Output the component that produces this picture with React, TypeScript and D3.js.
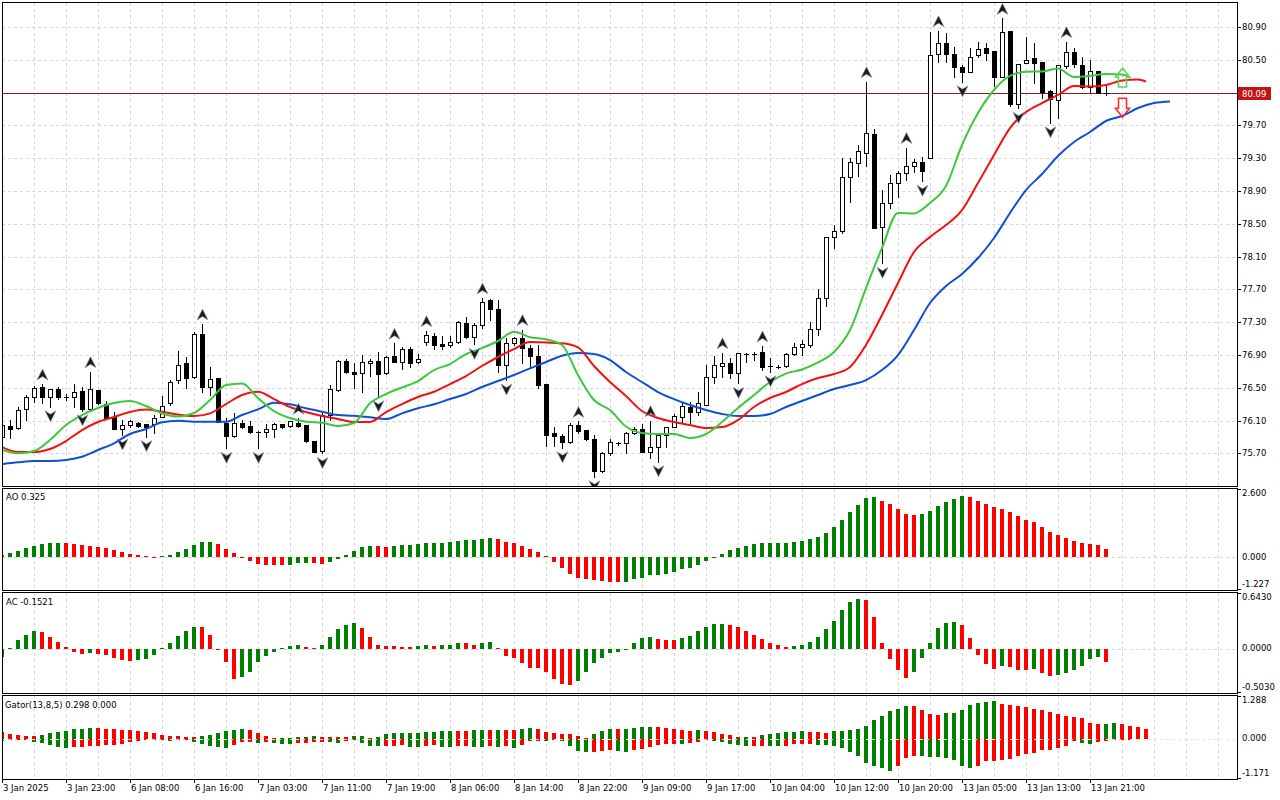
import React from "react";
import * as d3 from "d3";

// ---------------- DATA ----------------
const timeLabels = [
  "3 Jan 2025", "3 Jan 23:00", "6 Jan 08:00", "6 Jan 16:00", "7 Jan 03:00", "7 Jan 11:00",
  "7 Jan 19:00", "8 Jan 06:00", "8 Jan 14:00", "8 Jan 22:00", "9 Jan 09:00", "9 Jan 17:00",
  "10 Jan 04:00", "10 Jan 12:00", "10 Jan 20:00", "13 Jan 05:00", "13 Jan 13:00", "13 Jan 21:00",
];
const labelEvery = 8;

const priceTicks = [75.7, 76.1, 76.5, 76.9, 77.3, 77.7, 78.1, 78.5, 78.9, 79.3, 79.7, 80.1, 80.5, 80.9];
const bid = 80.09;

const openP = [
  75.90, 76.039, 76.006, 76.238, 76.384, 76.506, 76.384, 76.49, 76.384, 76.384,
  76.457, 76.24, 76.474, 76.303, 76.148, 75.994, 76.043, 76.075, 76.059, 76.059,
  76.14, 76.31, 76.595, 76.798, 76.628, 77.156, 76.514, 76.616, 76.075, 75.912,
  76.067, 76.035, 75.965, 75.965, 75.994, 76.059, 76.035, 76.075, 76.051, 75.855,
  75.734, 76.169, 76.473, 76.827, 76.689, 76.677, 76.799, 76.827, 76.677, 76.888,
  76.819, 76.969, 76.811, 77.063, 77.132, 77.038, 77.018, 77.055, 77.295, 77.116,
  77.266, 77.571, 77.457, 76.778, 77.043, 77.104, 76.982, 76.888, 76.547, 75.945,
  75.913, 75.843, 76.047, 75.986, 75.872, 75.49, 75.709, 75.823, 75.823, 75.945,
  75.994, 75.722, 75.783, 75.925, 76.026, 76.15, 76.27, 76.209, 76.29, 76.636,
  76.766, 76.798, 76.684, 76.912, 76.908, 76.932, 76.766, 76.758, 76.766, 76.912,
  76.993, 77.022, 77.213, 77.591, 78.335, 78.416, 79.075, 79.245, 79.367, 79.595,
  78.465, 78.749, 78.993, 79.124, 79.209, 79.249, 79.298, 80.571, 80.709, 80.571,
  80.408, 80.355, 80.558, 80.639, 80.607, 80.294, 80.851, 79.961, 80.457, 80.518,
  80.477, 80.123, 80.01, 80.424, 80.599, 80.436, 80.164, 80.367, 80.09,
];
const highP = [
  76.06, 76.108, 76.27, 76.41, 76.52, 76.546, 76.48, 76.515, 76.425, 76.546,
  76.515, 76.697, 76.474, 76.343, 76.2, 76.108, 76.108, 76.087, 76.059, 76.168,
  76.4, 76.595, 76.953, 76.88, 77.185, 77.278, 76.758, 76.616, 76.128, 76.19,
  76.108, 76.1, 75.97, 76.059, 76.067, 76.059, 76.092, 76.128, 76.051, 75.855,
  76.189, 76.534, 76.839, 76.847, 76.799, 76.9, 76.847, 76.933, 76.888, 77.043,
  77.002, 77.002, 76.908, 77.197, 77.164, 77.132, 77.132, 77.319, 77.36, 77.286,
  77.595, 77.579, 77.571, 77.104, 77.12, 77.21, 77.022, 77.022, 76.547, 76.026,
  75.937, 76.067, 76.09, 75.986, 75.925, 75.722, 75.872, 75.835, 75.965, 76.026,
  76.06, 76.10, 75.925, 76.026, 76.181, 76.311, 76.331, 76.453, 76.778, 76.888,
  76.928, 76.859, 76.92, 76.92, 76.94, 77.01, 76.868, 76.778, 76.928, 77.05,
  77.083, 77.306, 77.701, 78.335, 78.485, 79.298, 79.298, 79.461, 80.233, 79.652,
  78.912, 79.095, 79.148, 79.43, 79.294, 79.318, 80.843, 80.855, 80.823, 80.66,
  80.436, 80.639, 80.721, 80.701, 80.607, 81.005, 80.851, 80.445, 80.782, 80.701,
  80.477, 80.131, 80.436, 80.721, 80.64, 80.538, 80.497, 80.367, 80.192,
];
const lowP = [
  75.89, 75.884, 76.0, 76.108, 76.33, 76.31, 76.27, 76.36, 76.35, 76.27,
  76.22, 76.235, 76.303, 76.128, 75.994, 75.925, 76.026, 76.026, 75.905, 75.953,
  76.14, 76.29, 76.555, 76.494, 76.615, 76.453, 76.413, 76.087, 75.762, 75.9,
  76.006, 75.945, 75.762, 75.905, 75.905, 76.006, 76.026, 76.026, 75.835, 75.715,
  75.70, 76.108, 76.465, 76.685, 76.494, 76.453, 76.644, 76.392, 76.669, 76.819,
  76.726, 76.758, 76.799, 77.022, 76.969, 76.969, 77.002, 77.05, 77.104, 77.03,
  77.226, 77.327, 76.697, 76.595, 77.022, 76.799, 76.758, 76.494, 75.79, 75.79,
  75.77, 75.823, 75.945, 75.864, 75.417, 75.478, 75.681, 75.803, 75.709, 75.937,
  75.722, 75.64, 75.60, 75.783, 76.018, 76.087, 76.046, 76.168, 76.29, 76.555,
  76.636, 76.616, 76.555, 76.818, 76.839, 76.717, 76.697, 76.738, 76.758, 76.9,
  76.9, 77.002, 77.144, 77.498, 78.201, 78.384, 78.77, 79.083, 79.205, 78.453,
  78.018, 78.689, 78.823, 79.04, 79.136, 79.02, 79.298, 80.477, 80.477, 80.294,
  80.233, 80.355, 80.538, 80.497, 80.18, 80.294, 79.936, 79.908, 80.457, 80.221,
  80.03, 79.733, 79.786, 80.396, 80.416, 80.152, 80.111, 80.091, 80.07,
];
const closeP = [
  76.05, 75.998, 76.23, 76.384, 76.494, 76.384, 76.48, 76.39, 76.384, 76.453,
  76.238, 76.48, 76.31, 76.128, 75.994, 76.043, 76.092, 76.035, 76.026, 76.128,
  76.278, 76.575, 76.778, 76.624, 77.156, 76.514, 76.612, 76.087, 75.912, 76.067,
  76.026, 75.965, 75.965, 75.994, 76.055, 76.026, 76.092, 76.039, 75.847, 75.721,
  76.169, 76.482, 76.827, 76.697, 76.673, 76.811, 76.827, 76.669, 76.88, 76.819,
  76.969, 76.807, 76.856, 77.14, 77.026, 77.01, 77.059, 77.303, 77.116, 77.262,
  77.551, 77.457, 76.778, 77.043, 77.104, 76.982, 76.888, 76.535, 75.925, 75.917,
  75.843, 76.047, 75.978, 75.872, 75.49, 75.709, 75.835, 75.823, 75.945, 75.994,
  75.722, 75.783, 75.925, 76.026, 76.156, 76.275, 76.209, 76.311, 76.636, 76.778,
  76.798, 76.676, 76.92, 76.912, 76.908, 76.758, 76.766, 76.758, 76.912, 76.993,
  77.034, 77.213, 77.591, 78.335, 78.416, 79.075, 79.258, 79.388, 79.603, 78.453,
  78.749, 78.993, 79.124, 79.204, 79.249, 79.148, 80.558, 80.709, 80.571, 80.408,
  80.355, 80.538, 80.627, 80.579, 80.294, 80.835, 79.961, 80.445, 80.497, 80.457,
  80.111, 80.018, 80.436, 80.599, 80.448, 80.164, 80.367, 80.091, 80.09,
];

// Alligator lines, one value every 2 bars (last value at lastBar + shift)
const jawShift = 8, teethShift = 5, lipsShift = 3;
const jawLine = [
  75.571, 75.592, 75.607, 75.607, 75.620, 75.660, 75.742, 75.823, 75.937, 75.998,
  76.079, 76.099, 76.087, 76.087, 76.087, 76.168, 76.238, 76.318, 76.299, 76.250,
  76.209, 76.168, 76.160, 76.140, 76.120, 76.189, 76.250, 76.299, 76.363, 76.424,
  76.510, 76.583, 76.656, 76.738, 76.815, 76.892, 76.924, 76.912, 76.839, 76.693,
  76.571, 76.449, 76.363, 76.290, 76.229, 76.181, 76.156, 76.156, 76.181, 76.266,
  76.339, 76.412, 76.485, 76.534, 76.595, 76.717, 76.900, 77.205, 77.534, 77.742,
  77.888, 78.083, 78.327, 78.632, 78.912, 79.107, 79.327, 79.498, 79.620, 79.754,
  79.815, 79.912, 79.973, 79.992,
];
const teethLine = [
  75.778, 75.717, 75.717, 75.754, 75.851, 75.985, 76.083, 76.144, 76.205, 76.235,
  76.209, 76.174, 76.156, 76.189, 76.302, 76.412, 76.452, 76.363, 76.266, 76.205,
  76.156, 76.120, 76.083, 76.083, 76.205, 76.302, 76.388, 76.452, 76.546, 76.644,
  76.766, 76.876, 76.973, 77.059, 77.052, 77.043, 76.992, 76.766, 76.571, 76.400,
  76.217, 76.132, 76.083, 76.046, 76.010, 76.022, 76.107, 76.266, 76.376, 76.449,
  76.546, 76.620, 76.668, 76.754, 77.022, 77.388, 77.778, 78.156, 78.339, 78.485,
  78.668, 78.998, 79.339, 79.668, 79.863, 79.973, 80.071, 80.181, 80.174, 80.193,
  80.248, 80.260, 80.235,
];
const lipsLine = [
  75.742, 75.701, 75.729, 75.863, 76.046, 76.168, 76.254, 76.315, 76.339, 76.278,
  76.187, 76.150, 76.193, 76.351, 76.534, 76.553, 76.376, 76.217, 76.132, 76.087,
  76.074, 76.034, 76.071, 76.311, 76.424, 76.504, 76.583, 76.717, 76.790, 76.912,
  76.985, 77.071, 77.184, 77.116, 77.092, 77.022, 76.656, 76.351, 76.229, 76.028,
  75.949, 75.937, 75.937, 75.888, 75.937, 76.083, 76.254, 76.412, 76.571, 76.674,
  76.723, 76.809, 76.937, 77.205, 77.717, 78.205, 78.632, 78.626, 78.754, 78.961,
  79.461, 79.851, 80.132, 80.303, 80.355, 80.357, 80.394, 80.290, 80.303, 80.327,
  80.321, 80.287,
];

const fractalUp = [5, 11, 25, 37, 49, 53, 60, 65, 72, 81, 90, 95, 108, 113, 117, 125, 133];
const fractalDown = [6, 10, 15, 18, 28, 32, 40, 47, 59, 63, 70, 74, 82, 92, 96, 110, 115, 120, 127, 131];

const signalBar = 140;
const signalBuyTip = 80.40;
const signalSellTip = 79.80;

const aoValues = [
  0.076, 0.15, 0.23, 0.34, 0.42, 0.49, 0.53, 0.54, 0.53, 0.49,
  0.45, 0.43, 0.38, 0.34, 0.27, 0.19, 0.11, 0.08, 0.03, 0.01,
  0.04, 0.08, 0.19, 0.30, 0.45, 0.57, 0.58, 0.49, 0.30, 0.15,
  -0.01, -0.15, -0.27, -0.275, -0.30, -0.305, -0.29, -0.23, -0.22, -0.23,
  -0.26, -0.19, -0.08, 0.08, 0.23, 0.38, 0.42, 0.41, 0.405, 0.44,
  0.445, 0.45, 0.49, 0.53, 0.535, 0.54, 0.57, 0.61, 0.64, 0.645,
  0.68, 0.72, 0.68, 0.57, 0.53, 0.42, 0.30, 0.19, 0.04, -0.19,
  -0.42, -0.61, -0.76, -0.80, -0.87, -0.875, -0.91, -0.915, -0.91, -0.83,
  -0.76, -0.68, -0.675, -0.61, -0.57, -0.45, -0.42, -0.30, -0.15, -0.04,
  0.11, 0.27, 0.34, 0.42, 0.49, 0.53, 0.535, 0.54, 0.545, 0.57,
  0.62, 0.68, 0.76, 0.91, 1.14, 1.40, 1.70, 1.97, 2.23, 2.27,
  2.12, 2.01, 1.82, 1.63, 1.59, 1.63, 1.74, 1.93, 2.08, 2.20,
  2.31, 2.27, 2.12, 2.01, 1.89, 1.82, 1.70, 1.55, 1.40, 1.33,
  1.14, 0.95, 0.83, 0.72, 0.61, 0.53, 0.49, 0.45, 0.325,
];
const acValues = [
  -0.10, 0.005, 0.094, 0.16, 0.20, 0.19, 0.13, 0.08, 0.02, -0.035,
  -0.06, -0.047, -0.06, -0.07, -0.105, -0.13, -0.14, -0.13, -0.12, -0.07,
  0.005, 0.06, 0.14, 0.20, 0.245, 0.244, 0.15, -0.01, -0.15, -0.34,
  -0.32, -0.27, -0.15, -0.08, -0.035, 0.003, 0.035, 0.047, 0.023, 0.012,
  0.047, 0.13, 0.22, 0.27, 0.29, 0.234, 0.13, 0.047, 0.035, 0.03,
  0.022, 0.02, 0.025, 0.047, 0.035, 0.036, 0.047, 0.07, 0.06, 0.047,
  0.07, 0.08, 0.01, -0.08, -0.105, -0.16, -0.22, -0.225, -0.26, -0.34,
  -0.40, -0.41, -0.37, -0.26, -0.16, -0.105, -0.047, -0.035, -0.01, 0.06,
  0.12, 0.13, 0.105, 0.094, 0.093, 0.12, 0.14, 0.20, 0.245, 0.28,
  0.281, 0.27, 0.245, 0.20, 0.15, 0.105, 0.07, 0.047, 0.023, 0.035,
  0.047, 0.08, 0.13, 0.22, 0.315, 0.44, 0.53, 0.56, 0.55, 0.36,
  0.06, -0.12, -0.245, -0.33, -0.26, -0.105, 0.06, 0.23, 0.29, 0.30,
  0.27, 0.12, -0.07, -0.175, -0.235, -0.20, -0.21, -0.245, -0.246, -0.235,
  -0.28, -0.315, -0.30, -0.28, -0.245, -0.20, -0.12, -0.094, -0.1521,
];
const gatorUpper = [
  0.215, 0.146, 0.127, 0.078, 0.074, 0.107, 0.166, 0.195, 0.224, 0.283,
  0.295, 0.315, 0.312, 0.283, 0.28, 0.254, 0.25, 0.244, 0.215, 0.166,
  0.107, 0.078, 0.075, 0.049, 0.045, 0.078, 0.107, 0.166, 0.224, 0.254,
  0.283, 0.254, 0.166, 0.078, 0.015, 0.02, 0.025, 0.05, 0.052, 0.078,
  0.05, 0.049, 0.048, 0.047, 0.078, 0.079, 0.02, 0.049, 0.137, 0.166,
  0.167, 0.168, 0.17, 0.195, 0.197, 0.224, 0.226, 0.225, 0.224, 0.254,
  0.255, 0.254, 0.256, 0.255, 0.254, 0.283, 0.312, 0.283, 0.195, 0.166,
  0.137, 0.136, 0.078, 0.02, 0.137, 0.224, 0.29, 0.283, 0.302, 0.322,
  0.351, 0.361, 0.351, 0.322, 0.293, 0.263, 0.234, 0.263, 0.234, 0.195,
  0.137, 0.107, 0.059, 0.068, 0.049, 0.117, 0.156, 0.166, 0.195, 0.215,
  0.224, 0.205, 0.195, 0.19, 0.224, 0.234, 0.254, 0.293, 0.39, 0.546,
  0.683, 0.81, 0.888, 0.976, 0.97, 0.839, 0.741, 0.712, 0.761, 0.77,
  0.839, 0.985, 1.054, 1.093, 1.112, 1.034, 0.985, 0.976, 0.946, 0.878,
  0.839, 0.79, 0.741, 0.683, 0.644, 0.605, 0.468, 0.439, 0.449, 0.458,
  0.44, 0.39, 0.351, 0.298,
];
const gatorLower = [
  0.06, 0.04, 0.02, 0.015, 0.078, 0.117, 0.176, 0.234, 0.263, 0.234,
  0.233, 0.215, 0.214, 0.185, 0.184, 0.156, 0.098, 0.07, 0.04, 0.02,
  0.01, 0.06, 0.03, 0.02, 0.078, 0.156, 0.205, 0.234, 0.263, 0.176,
  0.098, 0.097, 0.127, 0.098, 0.127, 0.156, 0.157, 0.127, 0.126, 0.098,
  0.097, 0.098, 0.127, 0.06, 0.03, 0.12, 0.205, 0.207, 0.205, 0.2,
  0.176, 0.234, 0.236, 0.2, 0.19, 0.234, 0.236, 0.205, 0.2, 0.234,
  0.236, 0.205, 0.234, 0.205, 0.263, 0.176, 0.06, 0.059, 0.06, 0.03,
  0.06, 0.205, 0.35, 0.38, 0.37, 0.35, 0.33, 0.35, 0.39, 0.332,
  0.283, 0.244, 0.176, 0.156, 0.146, 0.156, 0.117, 0.088, 0.04, 0.049,
  0.088, 0.137, 0.176, 0.215, 0.205, 0.195, 0.2, 0.215, 0.205, 0.156,
  0.146, 0.137, 0.176, 0.185, 0.215, 0.273, 0.39, 0.507, 0.702, 0.8,
  0.859, 0.946, 0.8, 0.566, 0.488, 0.49, 0.517, 0.537, 0.546, 0.605,
  0.8, 0.859, 0.79, 0.654, 0.634, 0.624, 0.585, 0.507, 0.449, 0.4,
  0.322, 0.312, 0.273, 0.215, 0.068, 0.117, 0.146, 0.088, 0.068, 0.039,
  0.03, 0.02,
];
const gatorLabelValues = [0.298, 0.0];

const aoRange = [-1.227, 2.6];
const acRange = [-0.503, 0.643];
const gatorRange = [-1.171, 1.288];
const priceRange = [75.315, 81.205];

// ---------------- LAYOUT ----------------
const W = 1280;
const H = 800;
const L = 2;
const R = 1237;
const MAIN = { top: 2, bottom: 486 };
const AOP = { top: 488, bottom: 590 };
const ACP = { top: 592, bottom: 693 };
const GTP = { top: 695, bottom: 779 };

const FONT = "'DejaVu Sans', Verdana, sans-serif";
const FS = 8.5;
const GREEN = "#008000";
const RED = "#ff0000";
const GRID = "#d6d6d6";
const JAW = "#0d4fd6";
const TEETH = "#f41010";
const LIPS = "#3cc83c";

const nBars = closeP.length;
const lastBar = nBars - 1;

function histColors(vals: number[], first: string, abs = false) {
  return vals.map((v, i) => {
    if (i === 0) return first;
    const a = abs ? Math.abs(v) : v;
    const b = abs ? Math.abs(vals[i - 1]) : vals[i - 1];
    return a > b ? GREEN : RED;
  });
}

export default function App() {
  const x = d3.scaleLinear().domain([0, 1]).range([2, 10]);
  const yMain = d3.scaleLinear().domain(priceRange).range([485, 2]);
  const yAO = d3.scaleLinear().domain(aoRange).range([AOP.bottom, AOP.top]);
  const yAC = d3.scaleLinear().domain(acRange).range([ACP.bottom, ACP.top]);
  const yGT = d3.scaleLinear().domain(gatorRange).range([GTP.bottom, GTP.top]);

  const px = (i: number) => Math.round(x(i));

  const gridBars: number[] = [];
  for (let i = 4; x(i) < R - 2; i += 4) gridBars.push(i);

  const lineIdx = (n: number, end: number) => (k: number) => (k === n - 1 ? end : k * 2);
  const mkLine = (vals: number[], end: number) => {
    const idx = lineIdx(vals.length, end);
    return d3
      .line<number>()
      .x((_, k) => x(idx(k)))
      .y((d) => yMain(d))
      .curve(d3.curveMonotoneX)(vals) as string;
  };

  const panelFrame = (p: { top: number; bottom: number }, key: string) => (
    <rect key={key} x={L + 0.5} y={p.top + 0.5} width={R - L} height={p.bottom - p.top}
      fill="none" stroke="#000" shapeRendering="crispEdges" />
  );

  const vGrid = (p: { top: number; bottom: number }, key: string) => (
    <g key={key}>
      {gridBars.map((i) => (
        <line key={i} x1={px(i) + 0.5} x2={px(i) + 0.5} y1={p.top + 1} y2={p.bottom}
          stroke={GRID} strokeDasharray="3,3" shapeRendering="crispEdges" />
      ))}
    </g>
  );

  const histogram = (vals: number[], colors: string[], y: d3.ScaleLinear<number, number>, sign = 1) =>
    vals.map((v, i) => {
      const y0 = Math.round(y(0));
      const y1 = Math.round(y(sign * v));
      const top = Math.min(y0, y1);
      const h = Math.max(1, Math.abs(y1 - y0));
      return <rect key={i} x={px(i) - 2} y={top} width={4} height={h} fill={colors[i]} shapeRendering="crispEdges" />;
    });

  const aoColors = histColors(aoValues, RED);
  const acColors = histColors(acValues, GREEN);
  const guColors = histColors(gatorUpper, RED, true);
  const glColors = histColors(gatorLower, GREEN, true);

  const subAxis = (p: { top: number; bottom: number }, range: number[], y: d3.ScaleLinear<number, number>, dec: number, key: string) => {
    const items = [
      { v: range[1], ty: p.top + 5.5, tick: p.top + 1 },
      { v: 0, ty: y(0), tick: null as number | null },
      { v: range[0], ty: p.bottom - 5.5, tick: p.bottom - 1 },
    ];
    return (
      <g key={key}>
        {items.map((it, k) => (
          <g key={k}>
            {it.tick !== null && (
              <line x1={R} x2={R + 4} y1={it.tick + 0.5} y2={it.tick + 0.5} stroke="#000" shapeRendering="crispEdges" />
            )}
            <text x={R + 5} y={it.ty} dominantBaseline="middle" fontSize={FS} fontFamily={FONT} fill="#000">
              {it.v.toFixed(dec)}
            </text>
          </g>
        ))}
      </g>
    );
  };

  const upArrow = (cx: number, cy: number) =>
    `M${cx},${cy - 6} L${cx + 5.5},${cy + 5} L${cx},${cy + 1.5} L${cx - 5.5},${cy + 5} Z`;
  const downArrow = (cx: number, cy: number) =>
    `M${cx},${cy + 6} L${cx + 5.5},${cy - 5} L${cx},${cy - 1.5} L${cx - 5.5},${cy - 5} Z`;

  const sx = x(signalBar) + 0.5;
  const bTip = yMain(signalBuyTip);
  const sTip = yMain(signalSellTip);
  const buyPath = `M${sx},${bTip} L${sx + 7},${bTip + 9} L${sx + 4},${bTip + 9} L${sx + 4},${bTip + 19} L${sx - 4},${bTip + 19} L${sx - 4},${bTip + 9} L${sx - 7},${bTip + 9} Z`;
  const sellPath = `M${sx},${sTip} L${sx + 7},${sTip - 9} L${sx + 4},${sTip - 9} L${sx + 4},${sTip - 19} L${sx - 4},${sTip - 19} L${sx - 4},${sTip - 9} L${sx - 7},${sTip - 9} Z`;

  const bidY = Math.round(yMain(bid));

  return (
    <div style={{ position: "absolute", left: 0, top: 0, width: W, height: H, background: "#fff" }}>
      <svg width={W} height={H} style={{ display: "block" }}>
        <defs>
          <clipPath id="cMain"><rect x={L + 1} y={MAIN.top + 1} width={R - L - 1} height={MAIN.bottom - MAIN.top - 1} /></clipPath>
          <clipPath id="cAO"><rect x={L + 1} y={AOP.top + 1} width={R - L - 1} height={AOP.bottom - AOP.top - 1} /></clipPath>
          <clipPath id="cAC"><rect x={L + 1} y={ACP.top + 1} width={R - L - 1} height={ACP.bottom - ACP.top - 1} /></clipPath>
          <clipPath id="cGT"><rect x={L + 1} y={GTP.top + 1} width={R - L - 1} height={GTP.bottom - GTP.top - 1} /></clipPath>
        </defs>
        <rect x={0} y={0} width={W} height={H} fill="#fff" />

        {/* ---------- MAIN PANEL ---------- */}
        <g clipPath="url(#cMain)">
          {vGrid(MAIN, "gm")}
          {priceTicks.map((p) => (
            <line key={p} x1={L} x2={R} y1={Math.round(yMain(p)) + 0.5} y2={Math.round(yMain(p)) + 0.5}
              stroke={GRID} strokeDasharray="3,3" shapeRendering="crispEdges" />
          ))}
          <line x1={L} x2={R} y1={bidY + 0.5} y2={bidY + 0.5} stroke="#8a1c1c" shapeRendering="crispEdges" />
          {closeP.map((c, i) => {
            const o = openP[i];
            const cx = px(i);
            const yO = Math.round(yMain(o));
            const yC = Math.round(yMain(c));
            const yH = Math.round(yMain(highP[i]));
            const yL = Math.round(yMain(lowP[i]));
            const top = Math.min(yO, yC);
            const bot = Math.max(yO, yC);
            const bull = c >= o;
            return (
              <g key={i} shapeRendering="crispEdges">
                <line x1={cx + 0.5} x2={cx + 0.5} y1={yH} y2={yL + 1} stroke="#000" />
                {bot - top < 1 ? (
                  <line x1={cx - 2} x2={cx + 3} y1={top + 0.5} y2={top + 0.5} stroke="#000" />
                ) : bull ? (
                  <rect x={cx - 1.5} y={top + 0.5} width={4} height={bot - top} fill="#fff" stroke="#000" />
                ) : (
                  <rect x={cx - 2} y={top} width={5} height={bot - top + 1} fill="#000" />
                )}
              </g>
            );
          })}
          <path d={mkLine(jawLine, lastBar + jawShift)} fill="none" stroke={JAW} strokeWidth={2} />
          <path d={mkLine(teethLine, lastBar + teethShift)} fill="none" stroke={TEETH} strokeWidth={2} />
          <path d={mkLine(lipsLine, lastBar + lipsShift)} fill="none" stroke={LIPS} strokeWidth={2} />
          {fractalUp.map((i) => (
            <path key={"u" + i} d={upArrow(x(i) + 0.5, yMain(highP[i]) - 9)} fill="#1b1b1b" stroke="#8797b0" strokeWidth={0.6} />
          ))}
          {fractalDown.map((i) => (
            <path key={"d" + i} d={downArrow(x(i) + 0.5, yMain(lowP[i]) + 9)} fill="#1b1b1b" stroke="#8797b0" strokeWidth={0.6} />
          ))}
          <path d={buyPath} fill="none" stroke="#5fd35f" strokeWidth={1.6} />
          <path d={sellPath} fill="none" stroke="#ff2a2a" strokeWidth={1.6} />
        </g>
        {panelFrame(MAIN, "fm")}
        {priceTicks.map((p) => {
          const yy = Math.round(yMain(p));
          return (
            <g key={"pl" + p}>
              <line x1={R} x2={R + 4} y1={yy + 0.5} y2={yy + 0.5} stroke="#000" shapeRendering="crispEdges" />
              <text x={R + 5} y={yy + 0.5} dominantBaseline="middle" fontSize={FS} fontFamily={FONT} fill="#000">
                {p.toFixed(2)}
              </text>
            </g>
          );
        })}
        <rect x={R + 1} y={bidY - 6} width={33} height={13} fill="#c41414" shapeRendering="crispEdges" />
        <text x={R + 5} y={bidY + 1} dominantBaseline="middle" fontSize={FS} fontFamily={FONT} fill="#fff">
          {bid.toFixed(2)}
        </text>

        {/* ---------- AO ---------- */}
        <g clipPath="url(#cAO)">
          {vGrid(AOP, "ga")}
          <line x1={L} x2={R} y1={Math.round(yAO(0)) + 0.5} y2={Math.round(yAO(0)) + 0.5} stroke={GRID} strokeDasharray="3,3" shapeRendering="crispEdges" />
          {histogram(aoValues, aoColors, yAO)}
        </g>
        {panelFrame(AOP, "fa")}
        <text x={6} y={AOP.top + 9} dominantBaseline="middle" fontSize={FS} fontFamily={FONT}>
          {`AO ${aoValues[lastBar].toFixed(3)}`}
        </text>
        {subAxis(AOP, aoRange, yAO, 3, "aa")}

        {/* ---------- AC ---------- */}
        <g clipPath="url(#cAC)">
          {vGrid(ACP, "gc")}
          <line x1={L} x2={R} y1={Math.round(yAC(0)) + 0.5} y2={Math.round(yAC(0)) + 0.5} stroke={GRID} strokeDasharray="3,3" shapeRendering="crispEdges" />
          {histogram(acValues, acColors, yAC)}
        </g>
        {panelFrame(ACP, "fc")}
        <text x={6} y={ACP.top + 10} dominantBaseline="middle" fontSize={FS} fontFamily={FONT}>
          {`AC ${acValues[lastBar].toFixed(4)}`}
        </text>
        {subAxis(ACP, acRange, yAC, 4, "ac")}

        {/* ---------- GATOR ---------- */}
        <g clipPath="url(#cGT)">
          {vGrid(GTP, "gg")}
          {histogram(gatorUpper, guColors, yGT, 1)}
          {histogram(gatorLower, glColors, yGT, -1)}
          <line x1={L} x2={R} y1={Math.round(yGT(0)) + 0.5} y2={Math.round(yGT(0)) + 0.5} stroke="#e8e8e8" strokeDasharray="3,3" shapeRendering="crispEdges" />
        </g>
        {panelFrame(GTP, "fg")}
        <text x={5} y={GTP.top + 10} dominantBaseline="middle" fontSize={FS} fontFamily={FONT}>
          {`Gator(13,8,5) ${gatorLabelValues[0].toFixed(3)} ${gatorLabelValues[1].toFixed(3)}`}
        </text>
        {subAxis(GTP, gatorRange, yGT, 3, "ag")}

        {/* ---------- TIME AXIS ---------- */}
        {timeLabels.map((t, k) => {
          const i = k * labelEvery;
          const xx = px(i);
          return (
            <g key={t}>
              <line x1={xx + 0.5} x2={xx + 0.5} y1={GTP.bottom} y2={GTP.bottom + 4} stroke="#000" shapeRendering="crispEdges" />
              <text x={xx + 1} y={788} dominantBaseline="middle" fontSize={FS} fontFamily={FONT} fill="#000">
                {t}
              </text>
            </g>
          );
        })}
      </svg>
    </div>
  );
}
